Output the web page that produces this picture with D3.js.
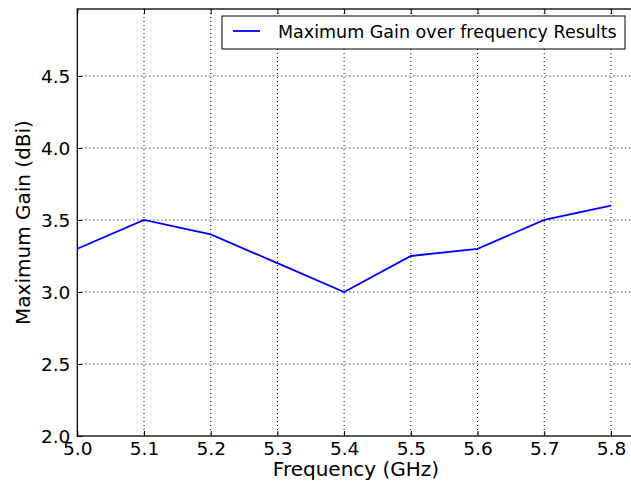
<!DOCTYPE html>
<html>
<head>
<meta charset="utf-8">
<script src="https://cdn.jsdelivr.net/npm/d3@7"></script>
<style>
  body { margin: 0; background: #fff; }
  svg { display: block; font-family: "DejaVu Sans", sans-serif; }
</style>
</head>
<body>
<svg width="631" height="484"></svg>
<script>
var freqs = [5.0, 5.1, 5.2, 5.3, 5.4, 5.5, 5.6, 5.7, 5.8];
var gains = [3.3, 3.5, 3.4, 3.2, 3.0, 3.25, 3.3, 3.5, 3.6];
var xTicks = [5.0, 5.1, 5.2, 5.3, 5.4, 5.5, 5.6, 5.7, 5.8];
var yTicks = [2.0, 2.5, 3.0, 3.5, 4.0, 4.5];
var seriesName = "Maximum Gain over frequency Results";

var svg = d3.select('svg');
var pLeft = 77.3, pTop = 9, pBottom = 436, pRight = 644.3;

var xScale = d3.scaleLinear().domain([5.0, 5.85]).range([pLeft, pRight]);
var yScale = d3.scaleLinear().domain([2.0, 4.965]).range([pBottom, pTop]);

// grid
var grid = svg.append('g');
grid.selectAll('line.gx').data(xTicks.slice(1))
  .enter().append('line')
  .attr('x1', function(d) { return xScale(d); })
  .attr('x2', function(d) { return xScale(d); })
  .attr('y1', pTop).attr('y2', pBottom)
  .attr('stroke', '#000').attr('stroke-width', 1).attr('stroke-dasharray', '1,3');
grid.selectAll('line.gy').data(yTicks.slice(1))
  .enter().append('line')
  .attr('x1', pLeft).attr('x2', pRight)
  .attr('y1', function(d) { return yScale(d); })
  .attr('y2', function(d) { return yScale(d); })
  .attr('stroke', '#000').attr('stroke-width', 1).attr('stroke-dasharray', '1,3');

// data line
var line = d3.line()
  .x(function(d, i) { return xScale(freqs[i]); })
  .y(function(d) { return yScale(d); });
svg.append('path').datum(gains)
  .attr('d', line)
  .attr('fill', 'none')
  .attr('stroke', '#0000ff')
  .attr('stroke-width', 1.8);

// axes: inward ticks on all sides
var fmt = d3.format('.1f');
var xb = svg.append('g').attr('transform', 'translate(0,' + pBottom + ')')
  .call(d3.axisBottom(xScale).tickValues(xTicks).tickFormat(fmt).tickSizeInner(-5).tickSizeOuter(0).tickPadding(6));
var xt = svg.append('g').attr('transform', 'translate(0,' + pTop + ')')
  .call(d3.axisTop(xScale).tickValues(xTicks).tickFormat('').tickSizeInner(-5).tickSizeOuter(0));
var yl = svg.append('g').attr('transform', 'translate(' + pLeft + ',0)')
  .call(d3.axisLeft(yScale).tickValues(yTicks).tickFormat(fmt).tickSizeInner(-5).tickSizeOuter(0).tickPadding(7));
[xb, xt, yl].forEach(function(a) {
  a.select('.domain').remove();
  a.selectAll('line').attr('stroke', '#000');
  a.selectAll('text').attr('fill', '#000').style('font-size', '18.5px').style('font-family', '"DejaVu Sans", sans-serif');
});
yl.selectAll('text').attr('dy', '0.35em');

// frame
svg.append('rect')
  .attr('x', pLeft).attr('y', pTop)
  .attr('width', pRight - pLeft).attr('height', pBottom - pTop)
  .attr('fill', 'none').attr('stroke', '#000').attr('stroke-width', 1.3);

// axis labels
svg.append('text')
  .attr('x', 356).attr('y', 476)
  .attr('text-anchor', 'middle').style('font-size', '20px')
  .text('Frequency (GHz)');
svg.append('text')
  .attr('transform', 'translate(30,' + ((pTop + pBottom) / 2) + ') rotate(-90)')
  .attr('text-anchor', 'middle').style('font-size', '20px')
  .text('Maximum Gain (dBi)');

// legend
var lg = svg.append('g');
lg.append('rect').attr('x', 222).attr('y', 16).attr('width', 403).attr('height', 33)
  .attr('fill', '#fff').attr('stroke', '#000').attr('stroke-width', 1);
lg.append('line').attr('x1', 233).attr('x2', 260).attr('y1', 31).attr('y2', 31)
  .attr('stroke', '#0000ff').attr('stroke-width', 1.8);
lg.append('text').attr('x', 278).attr('y', 37.5).style('font-size', '17.5px')
  .text(seriesName);
</script>
</body>
</html>
